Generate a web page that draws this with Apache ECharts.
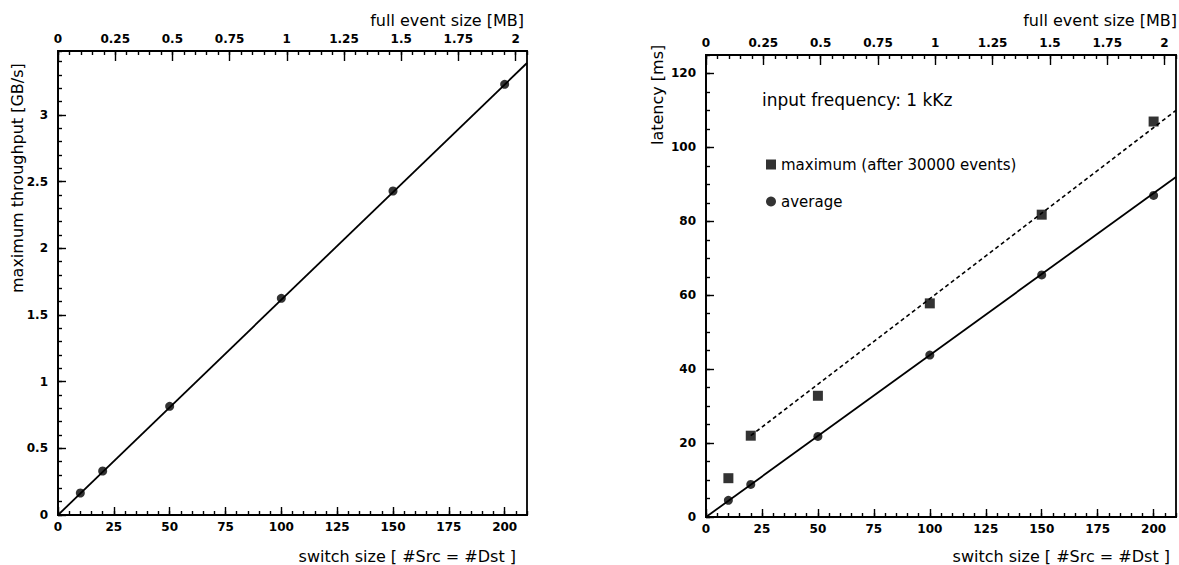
<!DOCTYPE html>
<html>
<head>
<meta charset="utf-8">
<title>switch size scan</title>
<script src="https://cdn.jsdelivr.net/npm/echarts@6/dist/echarts.min.js"></script>
<style>
  html, body { margin: 0; padding: 0; background: #fff; }
  #main { width: 1179px; height: 565px; }
</style>
</head>
<body>
<div id="main"></div>
<script>
// measured points (switch size = #Src = #Dst)
const switchSize = [10, 20, 50, 100, 150, 200];
const throughput = [0.165, 0.33, 0.815, 1.625, 2.43, 3.23];   // GB/s
const latencyMax = [10.5, 22, 32.8, 57.8, 81.8, 107];          // ms
const latencyAvg = [4.5, 8.8, 21.8, 43.8, 65.5, 87];            // ms

// straight-line fits, [switch size, value]
const throughputFit = [[0, 0], [210, 3.39]];
const latencyAvgFit = [[0, 0], [210, 92]];
const latencyMaxFit = [[20, 22], [210, 110]];

// axis ranges / tick steps
const sizeRange = [0, 210], sizeStep = 25, sizeMinor = 5;
const mbRange = [0, 2.05], mbStep = 0.25, mbMinor = 0.05;
const tpRange = [0, 3.48], tpStep = 0.5, tpMinor = 0.1;
const latRange = [0, 125], latStep = 20, latMinor = 5;

const legendNames = ['maximum (after 30000 events)', 'average'];

const FONT = 'DejaVu Sans';
const BLACK = '#000';

// one axis: major (labels + long ticks) or minor (short ticks only)
function axis(dim, gridIndex, position, range, step, minor) {
  let a = {
    type: 'value',
    gridIndex: gridIndex,
    position: position,
    min: range[0],
    max: range[1],
    interval: step,
    axisLine: { show: !minor, onZero: false, lineStyle: { color: BLACK, width: 1.8 } },
    axisTick: {
      show: true,
      inside: true,
      length: minor ? 4 : (position === 'top' ? 10 : 8),
      lineStyle: { color: BLACK, width: 1.4 }
    },
    splitLine: { show: false },
    axisLabel: {
      show: !minor,
      color: BLACK,
      fontFamily: FONT,
      fontWeight: 'bold',
      fontSize: 12,
      margin: dim === 'y' ? 10 : 6,
      showMaxLabel: false
    }
  };
  return a;
}

let chart = echarts.init(document.getElementById('main'), null, { renderer: 'svg' });

let option = {
  backgroundColor: '#fff',
  animation: false,
  grid: [
    { left: 58, top: 51, width: 469, height: 464, show: true, borderColor: BLACK, borderWidth: 1.8 },
    { left: 706, top: 55, width: 470, height: 462, show: true, borderColor: BLACK, borderWidth: 1.8 }
  ],
  xAxis: [
    axis('x', 0, 'bottom', sizeRange, sizeStep, false),
    axis('x', 0, 'bottom', sizeRange, sizeMinor, true),
    axis('x', 0, 'top', mbRange, mbStep, false),
    axis('x', 0, 'top', mbRange, mbMinor, true),
    axis('x', 1, 'bottom', sizeRange, sizeStep, false),
    axis('x', 1, 'bottom', sizeRange, sizeMinor, true),
    axis('x', 1, 'top', mbRange, mbStep, false),
    axis('x', 1, 'top', mbRange, mbMinor, true)
  ],
  yAxis: [
    axis('y', 0, 'left', tpRange, tpStep, false),
    axis('y', 0, 'left', tpRange, tpMinor, true),
    axis('y', 1, 'left', latRange, latStep, false),
    axis('y', 1, 'left', latRange, latMinor, true)
  ],
  legend: {
    orient: 'vertical',
    left: 761,
    top: 152,
    itemWidth: 10,
    itemHeight: 10,
    itemGap: 22,
    textStyle: { color: BLACK, fontFamily: FONT, fontSize: 15 },
    data: [
      { name: legendNames[0], icon: 'rect' },
      { name: legendNames[1], icon: 'circle' }
    ]
  },
  series: [
    {
      name: 'throughput fit',
      type: 'line',
      xAxisIndex: 0, yAxisIndex: 0,
      data: throughputFit,
      symbol: 'none',
      lineStyle: { color: BLACK, width: 1.8 }
    },
    {
      name: 'throughput',
      type: 'scatter',
      xAxisIndex: 0, yAxisIndex: 0,
      data: switchSize.map((s, i) => [s, throughput[i]]),
      symbol: 'circle',
      symbolSize: 9,
      itemStyle: { color: BLACK }
    },
    {
      name: 'average fit',
      type: 'line',
      xAxisIndex: 4, yAxisIndex: 2,
      data: latencyAvgFit,
      symbol: 'none',
      lineStyle: { color: BLACK, width: 1.8 }
    },
    {
      name: 'maximum fit',
      type: 'line',
      xAxisIndex: 4, yAxisIndex: 2,
      data: latencyMaxFit,
      symbol: 'none',
      lineStyle: { color: BLACK, width: 1.6, type: [4, 3] }
    },
    {
      name: legendNames[0],
      type: 'scatter',
      xAxisIndex: 4, yAxisIndex: 2,
      data: switchSize.map((s, i) => [s, latencyMax[i]]),
      symbol: 'rect',
      symbolSize: 10,
      itemStyle: { color: BLACK }
    },
    {
      name: legendNames[1],
      type: 'scatter',
      xAxisIndex: 4, yAxisIndex: 2,
      data: switchSize.map((s, i) => [s, latencyAvg[i]]),
      symbol: 'circle',
      symbolSize: 9,
      itemStyle: { color: BLACK }
    }
  ],
  // axis titles and the note, placed like the original print
  graphic: [
    { type: 'text', x: 524, y: 20, style: { text: 'full event size [MB]', font: '16px "DejaVu Sans"', fill: BLACK, align: 'right', verticalAlign: 'middle' } },
    { type: 'text', x: 1177, y: 20, style: { text: 'full event size [MB]', font: '16px "DejaVu Sans"', fill: BLACK, align: 'right', verticalAlign: 'middle' } },
    { type: 'text', x: 516, y: 556, style: { text: 'switch size [ #Src = #Dst ]', font: '16px "DejaVu Sans"', fill: BLACK, align: 'right', verticalAlign: 'middle' } },
    { type: 'text', x: 1170, y: 556, style: { text: 'switch size [ #Src = #Dst ]', font: '16px "DejaVu Sans"', fill: BLACK, align: 'right', verticalAlign: 'middle' } },
    { type: 'text', x: 17, y: 293, rotation: Math.PI / 2, style: { text: 'maximum throughput [GB/s]', font: '16px "DejaVu Sans"', fill: BLACK, align: 'left', verticalAlign: 'middle' } },
    { type: 'text', x: 657, y: 145, rotation: Math.PI / 2, style: { text: 'latency [ms]', font: '16px "DejaVu Sans"', fill: BLACK, align: 'left', verticalAlign: 'middle' } },
    { type: 'text', x: 762, y: 100, style: { text: 'input frequency: 1 kKz', font: '17px "DejaVu Sans"', fill: BLACK, align: 'left', verticalAlign: 'middle' } }
  ]
};

chart.setOption(option);
</script>
</body>
</html>
